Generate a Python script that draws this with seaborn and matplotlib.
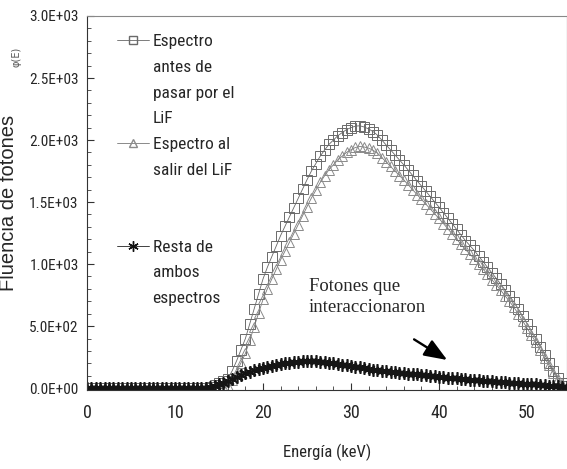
import numpy as np
import pandas as pd
import seaborn as sns
import matplotlib
matplotlib.use("Agg")
import matplotlib.pyplot as plt
from matplotlib.ticker import MultipleLocator, FuncFormatter
from matplotlib.lines import Line2D
from matplotlib import font_manager

# ---------------- data ----------------
energy = np.arange(0, 55, 0.5)  # keV grid, 0 ... 54.5

zeros_low = [0] * 28  # 0 ... 13.5 keV

espectro_antes = zeros_low + [
    12, 25, 40, 55, 75, 140, 220, 310, 400, 520,
    640, 760, 880, 975, 1060, 1145, 1230, 1305, 1380, 1455,
    1530, 1605, 1680, 1750, 1810, 1870, 1920, 1965, 2000, 2035,
    2060, 2085, 2100, 2112, 2115, 2105, 2090, 2068, 2040, 2000,
    1960, 1920, 1880, 1840, 1800, 1758, 1715, 1672, 1630, 1588,
    1545, 1502, 1460, 1415, 1370, 1325, 1280, 1235, 1190, 1150,
    1110, 1065, 1020, 975, 930, 885, 840, 792, 745, 695,
    640, 580, 520, 460, 400, 335, 270, 205, 140, 85,
    40, 15]

espectro_despues = zeros_low + [
    2, 5, 10, 13, 20, 68, 130, 205, 280, 387,
    495, 605, 715, 802, 880, 957, 1035, 1105, 1175, 1246,
    1318, 1390, 1462, 1533, 1595, 1658, 1712, 1761, 1800, 1840,
    1870, 1901, 1922, 1940, 1948, 1944, 1935, 1918, 1895, 1859,
    1823, 1787, 1750, 1714, 1678, 1640, 1600, 1561, 1522, 1484,
    1445, 1406, 1368, 1327, 1285, 1244, 1202, 1160, 1118, 1081,
    1044, 1002, 960, 918, 875, 833, 790, 745, 700, 653,
    600, 543, 485, 428, 370, 308, 245, 184, 122, 71,
    30, 9]

resta = zeros_low + [
    10, 20, 30, 42, 55, 72, 90, 105, 120, 133,
    145, 155, 165, 173, 180, 188, 195, 200, 205, 209,
    212, 215, 218, 217, 215, 212, 208, 204, 200, 195,
    190, 184, 178, 172, 167, 161, 155, 150, 145, 141,
    137, 133, 130, 126, 122, 118, 115, 111, 108, 104,
    100, 96, 92, 88, 85, 81, 78, 75, 72, 69,
    66, 63, 60, 57, 55, 52, 50, 47, 45, 42,
    40, 37, 35, 32, 30, 27, 25, 21, 18, 14,
    10, 6]

labels = ["Espectro\nantes de\npasar por el\nLiF",
          "Espectro al\nsalir del LiF\n\n",
          "Resta de\nambos\nespectros"]
x_ticks = [0, 10, 20, 30, 40, 50]

df = pd.DataFrame({"E": energy, "antes": espectro_antes,
                   "despues": espectro_despues, "resta": resta})

# ---------------- style ----------------
sns.set_style("ticks")

# pick a condensed sans family if one is installed
fl = font_manager.fontManager.ttflist
prefs = [("Liberation Sans Narrow", None), ("Noto Sans", "condensed"),
         ("Noto Sans", "semi-condensed"), ("Roboto Condensed", None),
         ("DejaVu Sans", "condensed"), ("Liberation Sans", None)]
cond_family, cond_stretch = "Liberation Sans", "normal"
for name, st in prefs:
    hit = [f for f in fl if f.name == name and (st is None or f.stretch == st)]
    if hit:
        cond_family, cond_stretch = name, (st or "normal")
        break
plt.rcParams["font.family"] = [cond_family, "DejaVu Sans"]
plt.rcParams["font.stretch"] = cond_stretch

fig = plt.figure(figsize=(5.67, 4.69), dpi=100)
ax = fig.add_axes([87 / 567, (469 - 390) / 469, 479.6 / 567, 374 / 469])

sq_col = "#6a6a6a"
tr_col = "#8a8a8a"
sns.lineplot(data=df, x="E", y="antes", ax=ax, color="#666666", lw=0.6,
             marker="s", markersize=6.5, markerfacecolor="none",
             markeredgecolor=sq_col, markeredgewidth=0.7)
sns.lineplot(data=df, x="E", y="despues", ax=ax, color="#777777", lw=0.6,
             marker="^", markersize=7, markerfacecolor="none",
             markeredgecolor=tr_col, markeredgewidth=0.7)
sns.lineplot(data=df, x="E", y="resta", ax=ax, color="#222222", lw=0.7,
             marker=(6, 2, 0), markersize=9, markeredgecolor="#151515",
             markeredgewidth=1.2)

ax.set_xlim(0, 54.5)
ax.set_ylim(-15, 3000)
ax.set_xticks(x_ticks)
ax.xaxis.set_minor_locator(MultipleLocator(2))
ax.yaxis.set_major_locator(MultipleLocator(500))
ax.yaxis.set_minor_locator(MultipleLocator(100))
ax.yaxis.set_major_formatter(FuncFormatter(lambda v, p: f"{v:.1E}"))
ax.tick_params(axis="both", which="major", direction="in", length=5,
               width=0.8, color="#333333")
ax.tick_params(axis="both", which="minor", direction="in", length=3,
               width=0.7, color="#555555")
ax.tick_params(axis="x", which="major", pad=10, labelsize=13)
ax.tick_params(axis="y", which="major", pad=6, labelsize=11)
for s in ax.spines.values():
    s.set_linewidth(0.8)
    s.set_color("#333333")
ax.spines["top"].set_color("#888888")
ax.spines["top"].set_linestyle((0, (3, 1)))

ax.set_xlabel("Energía (keV)", fontsize=12, labelpad=16)
ax.set_ylabel("Fluencia de fotones", fontsize=14.5,
              family=["Liberation Sans", "DejaVu Sans"], stretch="normal")
ax.yaxis.set_label_coords((18 - 87) / 479.6, 0.5)
fig.text(17 / 567, 1 - 57 / 469, "φ(E)", rotation=90, fontsize=7,
         color="#555555", ha="center", va="center",
         family=["DejaVu Sans"])

# annotation
ax.text(25.2, 734, "Fotones que\ninteraccionaron", fontsize=13.5,
        family=["Liberation Serif", "DejaVu Serif"], stretch="normal",
        va="center", ha="left", linespacing=1.25)
ax.annotate("", xy=(41.2, 215), xytext=(36.9, 405),
            arrowprops=dict(arrowstyle="-|>,head_length=1.4,head_width=0.55",
                            color="black", lw=1.7))

# legend
handles = [
    Line2D([], [], color="#666666", lw=0.6, marker="s", markersize=5.5,
           markerfacecolor="none", markeredgecolor=sq_col),
    Line2D([], [], color="#777777", lw=0.6, marker="^", markersize=6,
           markerfacecolor="none", markeredgecolor=tr_col),
    Line2D([], [], color="#222222", lw=0.6, marker=(6, 2, 0), markersize=7.5,
           markeredgecolor="#111111", markeredgewidth=1.0),
]
leg = ax.legend(handles, labels, loc="upper left",
                bbox_to_anchor=(117 / 567, 1 - 34 / 469),
                bbox_transform=fig.transFigure, frameon=False,
                fontsize=12.5, handlelength=1.85, handletextpad=0.2,
                labelspacing=0.6, borderpad=0, borderaxespad=0)
for t in leg.get_texts():
    t.set_linespacing(1.9)
try:
    for col in leg._legend_handle_box.get_children():
        for row in col.get_children():
            row.align = "top"
except Exception:
    pass

fig.savefig("out.png", dpi=100)
